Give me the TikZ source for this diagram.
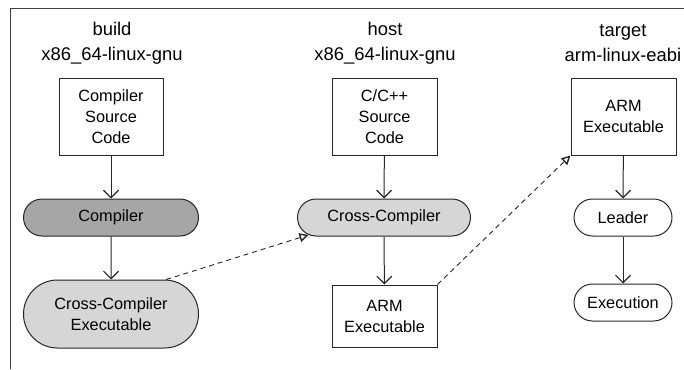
\documentclass[tikz,border=0pt]{standalone}
\usepackage{fontspec}
\setmainfont{Liberation Sans}
\usepackage{xcolor}
\usetikzlibrary{arrows.meta,shapes.misc}

\definecolor{darkfill}{RGB}{166,166,166}
\definecolor{lightfill}{RGB}{214,214,214}

\begin{document}
\begin{tikzpicture}[x=1pt,y=-1pt,
  box/.style={draw=black!85,line width=1pt,align=center,inner sep=0pt,font=\fontsize{16.3}{21}\selectfont},
  pill/.style={box,rounded rectangle},
  head/.style={align=center,inner sep=0pt,font=\fontsize{18.4}{25}\selectfont},
  flow/.style={draw=black!85,line width=1pt,-{Straight Barb[length=7.5pt,width=15pt,line width=1.2pt]}},
  xflow/.style={draw=black!85,line width=0.9pt,dash pattern=on 5pt off 4pt,-{Triangle[open,length=9pt,width=9pt,line width=1.4pt]}}]
\useasboundingbox (0,0) rectangle (684,369);
\draw[black!75,line width=1.3pt] (684,8.5)--(10.5,8.5)--(10.5,369);
%
\node[head] (hbuild) at (112,43) {build\\x86\_64-linux-gnu};
\node[box,minimum width=104pt,minimum height=77pt] (bsrc) at (111,116.5) {Compiler\\Source\\Code};
\node[pill,fill=darkfill,minimum width=175pt,minimum height=37pt] (comp) at (111,217.5) {Compiler};
\node[pill,fill=lightfill,minimum width=175pt,minimum height=68pt] (xexe) at (111,314) {Cross-Compiler\\Executable};
\draw[flow] (bsrc)--(comp);
\draw[flow] (comp)--(xexe);
%
\node[head] (hhost) at (385,43) {host\\x86\_64-linux-gnu};
\node[box,minimum width=105pt,minimum height=77pt] (hsrc) at (384.5,116.5) {C/C++\\Source\\Code};
\node[pill,fill=lightfill,minimum width=173pt,minimum height=37pt] (xcomp) at (384,217.5) {Cross-Compiler};
\node[box,minimum width=105pt,minimum height=62pt] (harm) at (384.5,316) {ARM\\Executable};
\draw[flow] (hsrc)--(xcomp);
\draw[flow] (xcomp)--(harm);
%
\node[head] (htarget) at (623,43) {target\\arm-linux-eabi};
\node[box,minimum width=105pt,minimum height=77pt] (tarm) at (623.5,116.5) {ARM\\Executable};
\node[pill,minimum width=98pt,minimum height=37pt] (lead) at (623,217.5) {Leader};
\node[pill,minimum width=98pt,minimum height=37pt] (exec) at (623,302.5) {Execution};
\draw[flow] (tarm)--(lead);
\draw[flow] (lead)--(exec);
%
\draw[xflow] (xexe.32)--(xcomp.193);
\draw[xflow] (harm.north east)--(tarm.south west);
\end{tikzpicture}
\end{document}
